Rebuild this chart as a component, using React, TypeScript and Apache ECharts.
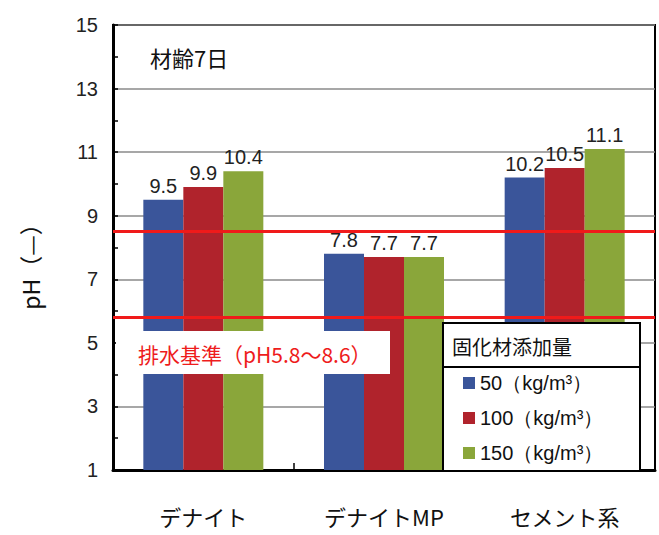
import React, { useEffect, useRef } from "react";
import * as echarts from "echarts";

const categories = ["デナイト", "デナイトMP", "セメント系"];
const seriesNames = ["50（kg/m³）", "100（kg/m³）", "150（kg/m³）"];
const values50 = [9.5, 7.8, 10.2];
const values100 = [9.9, 7.7, 10.5];
const values150 = [10.4, 7.7, 11.1];
const seriesValues = [values50, values100, values150];
const colors = ["#3a559a", "#b0232c", "#8aa63a"];
const standardLines = [5.8, 8.5];
const Y_BASE = 1;
const Y_MAX = 15;
const Y_STEP = 2;
const titleText = "材齢7日";
const standardText = "排水基準（pH5.8～8.6）";
const legendTitle = "固化材添加量";
const yName = "pH（—）";

const NUM_FONT = "'Liberation Sans', Arial, sans-serif";
const JP_FONT = "'Noto Sans CJK JP', 'Noto Sans', sans-serif";

export default function App() {
  const ref = useRef<HTMLDivElement>(null);
  useEffect(() => {
    document.body.style.margin = "0";
    const chart = echarts.init(ref.current!, undefined, { renderer: "svg" });
    const series: any[] = seriesValues.map((vals, i) => ({
      name: seriesNames[i],
      type: "bar",
      barWidth: 40,
      barGap: "0%",
      itemStyle: { color: colors[i] },
      data: vals.map((v) => v - Y_BASE),
      label: {
        show: true,
        position: "top",
        distance: 4,
        fontSize: 20,
        fontFamily: NUM_FONT,
        color: "#222",
        formatter: (p: any) => vals[p.dataIndex].toFixed(1),
      },
      ...(i === seriesValues.length - 1
        ? {
            markLine: {
              silent: true,
              symbol: "none",
              z: 5,
              label: { show: false },
              lineStyle: { color: "#f01a1a", width: 3, type: "solid" },
              data: standardLines.map((v) => ({ yAxis: v - Y_BASE })),
            },
          }
        : {}),
    }));

    chart.setOption({
      animation: false,
      backgroundColor: "#fff",
      grid: {
        left: 113,
        right: 4,
        top: 25,
        bottom: 65,
        show: true,
        borderColor: "#000",
        borderWidth: 2,
        backgroundColor: "#fff",
      },
      legend: {
        orient: "vertical",
        left: 463,
        top: 373,
        padding: 0,
        itemWidth: 12,
        itemHeight: 12,
        itemGap: 15,
        icon: "rect",
        z: 20,
        textStyle: {
          fontSize: 20,
          lineHeight: 20,
          fontFamily: NUM_FONT,
          color: "#111",
        },
        data: seriesNames,
      },
      xAxis: {
        type: "category",
        data: categories,
        axisLine: { lineStyle: { color: "#000", width: 3 } },
        axisTick: { show: true, inside: true, length: 7, lineStyle: { color: "#000", width: 1.5 } },
        axisLabel: {
          fontSize: 22,
          lineHeight: 22,
          margin: 35,
          color: "#111",
          fontFamily: JP_FONT,
        },
      },
      yAxis: {
        type: "value",
        min: 0,
        max: Y_MAX - Y_BASE,
        interval: Y_STEP,
        axisLine: { show: true, lineStyle: { color: "#000", width: 3 } },
        axisTick: { show: true, inside: true, length: 5, lineStyle: { color: "#000", width: 1.5 } },
        minorTick: { show: true, splitNumber: 2, length: 5, lineStyle: { color: "#000", width: 1.5 } },
        splitLine: { show: true, lineStyle: { color: "#8a8a8a", width: 1.5 } },
        axisLabel: {
          fontSize: 20,
          margin: 15,
          color: "#222",
          fontFamily: NUM_FONT,
          formatter: (v: number) => String(v + Y_BASE),
        },
      },
      graphic: [
        {
          type: "text",
          z: 12,
          style: {
            text: titleText,
            x: 150,
            y: 57,
            fill: "#111",
            fontSize: 22,
            fontFamily: JP_FONT,
            textAlign: "left",
            align: "left",
            textVerticalAlign: "middle",
            verticalAlign: "middle",
          },
        },
        {
          type: "text",
          z: 12,
          x: 30,
          y: 261,
          rotation: Math.PI / 2,
          style: {
            text: yName,
            x: 0,
            y: 0,
            fill: "#111",
            fontSize: 23,
            fontFamily: JP_FONT,
            textAlign: "center",
            align: "center",
            textVerticalAlign: "middle",
            verticalAlign: "middle",
          },
        },
        {
          type: "rect",
          z: 10,
          shape: { x: 116, y: 331, width: 274, height: 43 },
          style: { fill: "#fff" },
        },
        {
          type: "text",
          z: 11,
          style: {
            text: standardText,
            x: 138,
            y: 354,
            fill: "#ee1c1c",
            fontSize: 21,
            fontFamily: JP_FONT,
            textAlign: "left",
            align: "left",
            textVerticalAlign: "middle",
            verticalAlign: "middle",
          },
        },
        {
          type: "rect",
          z: 10,
          shape: { x: 443, y: 323, width: 197, height: 148 },
          style: { fill: "#fff", stroke: "#000", lineWidth: 2 },
        },
        {
          type: "line",
          z: 11,
          shape: { x1: 443, y1: 367, x2: 640, y2: 367 },
          style: { stroke: "#000", lineWidth: 2 },
        },
        {
          type: "text",
          z: 11,
          style: {
            text: legendTitle,
            x: 452,
            y: 346,
            fill: "#111",
            fontSize: 20,
            fontFamily: JP_FONT,
            textAlign: "left",
            align: "left",
            textVerticalAlign: "middle",
            verticalAlign: "middle",
          },
        },
      ],
      series,
    });
    return () => chart.dispose();
  }, []);
  return <div ref={ref} style={{ width: 659, height: 535 }} />;
}
